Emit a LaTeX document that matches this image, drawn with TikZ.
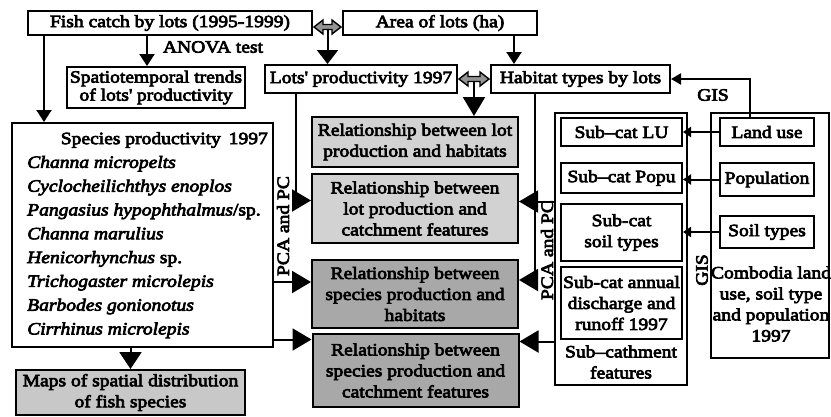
\documentclass[tikz,border=0pt]{standalone}
\usepackage{fontspec}
\setmainfont[FakeStretch=1.13,FakeBold=4]{Liberation Serif}
\usetikzlibrary{calc,arrows.meta}
\newcommand\fsz{\fontsize{17.3}{21}\selectfont}
\newcommand\apo{\textquotesingle}
\newcommand\dblarr[2]{\filldraw[fill=gray!85, draw=black, line width=1.4pt, line join=miter] (#1) -- ($(#1)+(9,-7)$) -- ($(#1)+(9,-2.5)$) -- ($(#2)+(-9,-2.5)$) -- ($(#2)+(-9,-7)$) -- (#2) -- ($(#2)+(-9,7)$) -- ($(#2)+(-9,2.5)$) -- ($(#1)+(9,2.5)$) -- ($(#1)+(9,7)$) -- cycle;}
\definecolor{lgray}{HTML}{D2D2D2}
\definecolor{dgray}{HTML}{A8A8A8}
\definecolor{mgray}{HTML}{C8C8C8}
\begin{document}
\begin{tikzpicture}[x=1pt,y=-1pt,
  every node/.style={font=\fsz},
  bx/.style={draw, line width=2pt, inner sep=0pt, align=center},
  lbl/.style={inner sep=0pt, align=center},
  conn/.style={line width=2pt},
  bigtip/.style={conn, -{Triangle[length=19pt,width=22pt]}},
  midtip/.style={conn, -{Triangle[length=12pt,width=15pt]}},
  smalltip/.style={conn, -{Triangle[length=8pt,width=10pt]}}]
\useasboundingbox (0,0) rectangle (831,416);

% top row
\node[bx, minimum width=284, minimum height=24] (fish) at (170,23) {Fish catch by lots (1995-1999)};
\node[bx, minimum width=194, minimum height=24] (area) at (440,23) {Area of lots (ha)};
\node[bx, minimum width=178, minimum height=41, font=\fontsize{17.3}{18}\selectfont] (spatio) at (156,87.5) {Spatiotemporal trends\\of lots\apo{} productivity};
\node[bx, minimum width=192, minimum height=28] (lots) at (361,79) {Lots\apo{} productivity 1997};
\node[bx, minimum width=179, minimum height=28] (habitat) at (580.5,79) {Habitat types by lots};
\node[lbl] (anova) at (213,47) {ANOVA test};

% species box
\node[bx, minimum width=261, minimum height=224] (species) at (142.5,235) {};
\node[lbl, anchor=east] (sptitle) at (268,140) {Species productivity\, 1997};
\node[lbl, anchor=west, align=left, font=\fontsize{17.3}{23.8}\selectfont\itshape] (splist) at (27,247)
 {Channa micropelts\\ Cyclocheilichthys enoplos\\ Pangasius hypophthalmus\textup{/sp.}\\ Channa marulius\\ Henicorhynchus \textup{sp.}\\ Trichogaster microlepis\\ Barbodes gonionotus\\ Cirrhinus microlepis};
\node[bx, fill=mgray, minimum width=229, minimum height=45] (maps) at (130.5,392.5) {Maps of spatial distribution\\of fish species};

% relationship boxes
\node[bx, fill=lgray, minimum width=206, minimum height=50] (rel1) at (415,142) {Relationship between lot\\production and habitats};
\node[bx, fill=lgray, minimum width=206, minimum height=69] (rel2) at (415,208.5) {Relationship between\\lot production and\\catchment features};
\node[bx, fill=dgray, minimum width=206, minimum height=68] (rel3) at (415,294) {Relationship between\\species production and\\habitats};
\node[bx, fill=dgray, minimum width=206, minimum height=73] (rel4) at (415.5,370.5) {Relationship between\\species production and\\catchment features};

% sub-catchment
\node[bx, minimum width=132, minimum height=272] (subcat) at (621,249) {};
\node[bx, minimum width=121, minimum height=28] (lu) at (621.5,132) {Sub--cat LU};
\node[bx, minimum width=121, minimum height=30] (popu) at (621.5,178) {Sub--cat Popu};
\node[bx, minimum width=121, minimum height=57] (soil) at (621.5,232.5) {Sub-cat\\soil types};
\node[bx, minimum width=121, minimum height=72] (disch) at (621.5,303) {Sub-cat annual\\discharge and\\runoff 1997};
\node[lbl] (subtxt) at (621,362) {Sub--cathment\\features};

% cambodia
\node[bx, minimum width=118, minimum height=245] (comb) at (770,235.5) {};
\node[bx, minimum width=94, minimum height=28] (landuse) at (767,132) {Land use};
\node[bx, minimum width=94, minimum height=33] (population) at (767,179.5) {Population};
\node[bx, minimum width=94, minimum height=32] (soiltypes) at (767,232) {Soil types};
\node[lbl] (combtxt) at (771,304) {Combodia land\\use, soil type\\and population\\1997};

% rotated labels
\node[lbl, rotate=90] (pca1) at (283,226) {PCA and PC};
\node[lbl, rotate=90] (pca2) at (547,250) {PCA and PC};
\node[lbl, rotate=90] (gis2) at (702,270) {GIS};
\node[lbl] (gis1) at (713,95) {GIS};

% connectors
\draw[midtip] ($(fish.south west)+(17,0)$) coordinate (f1) -- (f1 |- species.north);
\draw[midtip] ($(fish.south west)+(120,0)$) coordinate (f2) -- (f2 |- spatio.north);

\coordinate (d1a) at ($(fish.east)+(1,4)$);
\coordinate (d1b) at ($(area.west)+(-1,4)$);
\coordinate (m1) at ($(d1a)!0.5!(d1b)$);
\draw[conn, -{Triangle[length=14pt,width=21pt]}] (m1) -- (m1 |- lots.north);
\dblarr{d1a}{d1b}

\draw[midtip] ($(area.south west)+(172,0)$) coordinate (a1) -- (a1 |- habitat.north);
\draw[conn, -{Triangle[length=10pt,width=11pt]}] ($(landuse.north)+(-17,0)$) |- (habitat.east);

\coordinate (d2a) at ($(lots.east)+(1,0)$);
\coordinate (d2b) at ($(habitat.west)+(-1,0)$);
\coordinate (m2) at ($(d2a)!0.5!(d2b)$);
\draw[bigtip] (m2) -- (m2 |- rel1.north);
\dblarr{d2a}{d2b}

% left side
\draw[bigtip] ($(lots.south west)+(32,0)$) coordinate (l1) |- ($(rel2.west)+(0,-8)$);
\coordinate (r3l) at ($(rel3.west)+(0,-12)$);
\draw[bigtip] (species.east |- r3l) -- (r3l);
\coordinate (r4l) at ($(rel4.west)+(0,-31)$);
\draw[bigtip] (species.east |- r4l) -- (r4l);

% right side
\coordinate (h1) at ($(habitat.south west)+(45,0)$);
\coordinate (r2r) at ($(rel2.east)+(0,-7)$);
\coordinate (r3r) at ($(rel3.east)+(0,-14)$);
\draw[conn] (h1) -- (h1 |- r3r);
\draw[bigtip] (h1 |- r3r) -- (r3r);
\draw[conn] (subcat.west |- r2r) -- (h1 |- r2r);
\draw[bigtip] (h1 |- r2r) -- (r2r);
\coordinate (r4r) at ($(rel4.east)+(0,-29)$);
\draw[bigtip] (subcat.west |- r4r) -- (r4r);

\draw[smalltip] (landuse.west) -- (landuse.west -| lu.east);
\draw[smalltip] (population.west) -- (population.west -| popu.east);
\draw[smalltip] (soiltypes.west) -- (soiltypes.west -| soil.east);

\draw[conn, -{Triangle[length=17pt,width=22pt]}] (maps.north |- species.south) -- (maps.north);
\end{tikzpicture}
\end{document}
